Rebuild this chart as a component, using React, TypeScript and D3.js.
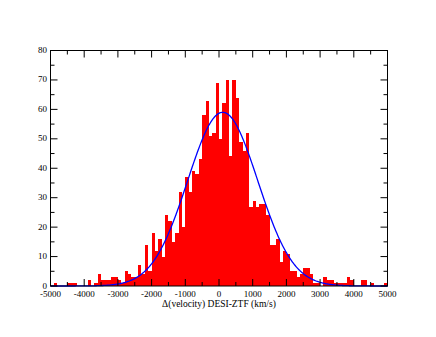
import React from "react";
import * as d3 from "d3";

// histogram bins, 100 km/s wide, starting at -5000
const binStarts = d3.range(-5000, 5000, 100);
const counts = [
  0, 1, 0, 0, 0, 1, 1, 1, 0, 0,
  0, 2, 0, 1, 4, 2, 2, 2, 3, 3,
  2, 1, 5, 4, 3, 3, 7, 4, 14, 5,
  18, 12, 16, 10, 24, 22, 15, 18, 32, 20,
  37, 32, 39, 38, 43, 58, 63, 51, 52, 69,
  50, 62, 70, 44, 70, 64, 49, 46, 52, 27,
  29, 27, 28, 28, 24, 14, 14, 16, 8, 12,
  11, 5, 5, 3, 4, 6, 6, 4, 1, 1,
  0, 3, 2, 2, 1, 1, 1, 1, 3, 2,
  0, 0, 2, 2, 0, 1, 0, 0, 0, 1,
];

// gaussian fit shown in blue
const fitAmplitude = 59;
const fitMean = 110;
const fitSigma = 1040;

const xTicks = [-5000, -4000, -3000, -2000, -1000, 0, 1000, 2000, 3000, 4000, 5000];
const yTicks = [0, 10, 20, 30, 40, 50, 60, 70, 80];

const App = () => {
  const width = 436;
  const height = 337;
  const left = 50.5;
  const right = 387.5;
  const top = 50.5;
  const bottom = 286;

  const x = d3.scaleLinear().domain([-5000, 5000]).range([left, right]);
  const y = d3.scaleLinear().domain([0, 80]).range([bottom, top]);

  const fitX = d3.range(-5000, 5001, 20);
  const fitLine = d3
    .line<number>()
    .x(v => x(v))
    .y(v => y(fitAmplitude * Math.exp(-((v - fitMean) ** 2) / (2 * fitSigma ** 2))));

  const xMinor = d3.range(-4500, 5000, 1000);
  const yMinor = d3.range(5, 80, 10);
  const font = "'Liberation Serif', 'Times New Roman', serif";

  return (
    <svg
      width={width}
      height={height}
      style={{ position: "absolute", left: 0, top: 0, background: "#fff" }}
    >
      {/* bars */}
      {binStarts.map((b, i) =>
        counts[i] > 0 ? (
          <rect
            key={b}
            x={x(b)}
            width={x(b + 100) - x(b)}
            y={y(counts[i])}
            height={bottom - y(counts[i])}
            fill="#ff0000"
            shapeRendering="crispEdges"
          />
        ) : null
      )}

      {/* fit */}
      <path d={fitLine(fitX) || ""} fill="none" stroke="#0000ff" strokeWidth={1.3} />

      {/* frame */}
      <rect
        x={left}
        y={top}
        width={right - left}
        height={bottom - top}
        fill="none"
        stroke="#000"
        strokeWidth={1}
      />

      {/* x ticks, inward on top and bottom */}
      {xTicks.map(t => (
        <g key={"xt" + t}>
          <line x1={x(t)} x2={x(t)} y1={bottom} y2={bottom - 7} stroke="#000" />
          <line x1={x(t)} x2={x(t)} y1={top} y2={top + 7} stroke="#000" />
          <text
            x={x(t)}
            y={296.5}
            textAnchor="middle"
            fontFamily={font}
            fontSize={9}
            fill="#000"
          >
            {t}
          </text>
        </g>
      ))}
      {xMinor.map(t => (
        <g key={"xm" + t}>
          <line x1={x(t)} x2={x(t)} y1={bottom} y2={bottom - 4} stroke="#000" />
          <line x1={x(t)} x2={x(t)} y1={top} y2={top + 4} stroke="#000" />
        </g>
      ))}

      {/* y ticks, inward on left and right */}
      {yTicks.map(t => (
        <g key={"yt" + t}>
          <line x1={left} x2={left + 7} y1={y(t)} y2={y(t)} stroke="#000" />
          <line x1={right} x2={right - 7} y1={y(t)} y2={y(t)} stroke="#000" />
          <text
            x={left - 3.5}
            y={y(t) + 2.5}
            textAnchor="end"
            fontFamily={font}
            fontSize={9}
            fill="#000"
          >
            {t}
          </text>
        </g>
      ))}
      {yMinor.map(t => (
        <g key={"ym" + t}>
          <line x1={left} x2={left + 4} y1={y(t)} y2={y(t)} stroke="#000" />
          <line x1={right} x2={right - 4} y1={y(t)} y2={y(t)} stroke="#000" />
        </g>
      ))}

      <text
        x={(left + right) / 2}
        y={307}
        textAnchor="middle"
        fontFamily={font}
        fontSize={9.5}
        fill="#000"
      >
        Δ(velocity) DESI-ZTF (km/s)
      </text>
    </svg>
  );
};

export default App;
